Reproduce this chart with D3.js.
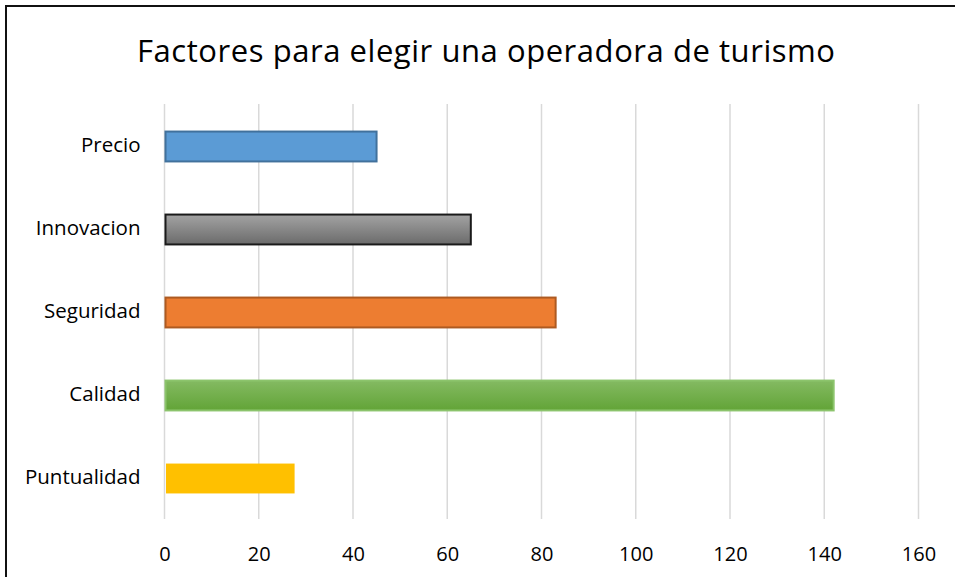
<!DOCTYPE html>
<html>
<head>
<meta charset="utf-8">
<script src="https://cdn.jsdelivr.net/npm/d3@7"></script>
<style>
  body { margin: 0; background: #fff; }
  svg { display: block; }
  text { font-family: "Open Sans", sans-serif; fill: #000; }
  .grid line { stroke: #d9d9d9; stroke-width: 1.5; }
  .domain { display: none; }
  .tick line { display: none; }
</style>
</head>
<body>
<div id="okvir"></div>
<script>
// podatci
const kategorije = ["Precio", "Innovacion", "Seguridad", "Calidad", "Puntualidad"];
const vrijednosti = [45, 65, 83, 142, 27.5];
const xTicks = [0, 20, 40, 60, 80, 100, 120, 140, 160];
const naslov = "Factores para elegir una operadora de turismo";

const crtajGraf = () => {
  const podatci = kategorije.map((k, i) => ({ kategorija: k, vrijednost: vrijednosti[i] }));

  const xAccessor = d => d.vrijednost;
  const yAccessor = d => d.kategorija;

  const dimenzije = {
    width: 955,
    height: 577,
    margin: { top: 104, right: 36.5, bottom: 58, left: 164.5 }
  };
  dimenzije.boundsWidth = dimenzije.width - dimenzije.margin.left - dimenzije.margin.right;
  dimenzije.boundsHeight = dimenzije.height - dimenzije.margin.top - dimenzije.margin.bottom;

  const okvir = d3.select("#okvir")
    .append("svg")
    .attr("width", dimenzije.width)
    .attr("height", dimenzije.height);

  // gradijenti
  const defs = okvir.append("defs");
  const sivi = defs.append("linearGradient").attr("id", "sivi")
    .attr("x1", 0).attr("y1", 0).attr("x2", 0).attr("y2", 1);
  sivi.append("stop").attr("offset", "0%").attr("stop-color", "#a3a3a3");
  sivi.append("stop").attr("offset", "100%").attr("stop-color", "#6b6b6b");
  const zeleni = defs.append("linearGradient").attr("id", "zeleni")
    .attr("x1", 0).attr("y1", 0).attr("x2", 0).attr("y2", 1);
  zeleni.append("stop").attr("offset", "0%").attr("stop-color", "#84ba62");
  zeleni.append("stop").attr("offset", "100%").attr("stop-color", "#62a437");

  const boje = {
    Precio: { fill: "#5b9bd5", stroke: "#41719c" },
    Innovacion: { fill: "url(#sivi)", stroke: "#1a1a1a" },
    Seguridad: { fill: "#ed7d31", stroke: "#ae5a21" },
    Calidad: { fill: "url(#zeleni)", stroke: "#8cc46c" },
    Puntualidad: { fill: "#ffc000", stroke: "none" }
  };

  // okvir grafa
  okvir.append("rect")
    .attr("x", 6).attr("y", 6)
    .attr("width", 1200).attr("height", 1200)
    .attr("fill", "none")
    .attr("stroke", "#111")
    .attr("stroke-width", 2);

  okvir.append("text")
    .attr("x", 486)
    .attr("y", 62)
    .attr("text-anchor", "middle")
    .attr("textLength", 698)
    .attr("lengthAdjust", "spacing")
    .style("font-size", "31px")
    .text(naslov);

  const granice = okvir.append("g")
    .attr("transform", `translate(${dimenzije.margin.left}, ${dimenzije.margin.top})`);

  const xMjerilo = d3.scaleLinear()
    .domain([0, 160])
    .range([0, dimenzije.boundsWidth]);

  const yMjerilo = d3.scaleBand()
    .domain(kategorije)
    .range([0, dimenzije.boundsHeight])
    .paddingInner(0.64)
    .paddingOuter(0.32);

  // mreza
  granice.append("g")
    .attr("class", "grid")
    .selectAll("line")
    .data(xTicks)
    .join("line")
    .attr("x1", d => xMjerilo(d))
    .attr("x2", d => xMjerilo(d))
    .attr("y1", 0)
    .attr("y2", dimenzije.boundsHeight);

  // stupci
  granice.selectAll(".stupac")
    .data(podatci)
    .join("rect")
    .attr("class", "stupac")
    .attr("x", d => boje[yAccessor(d)].stroke === "none" ? xMjerilo(0) + 1.5 : xMjerilo(0) + 1)
    .attr("y", d => yMjerilo(yAccessor(d)) + 1)
    .attr("width", d => xMjerilo(xAccessor(d)) - xMjerilo(0) - 1)
    .attr("height", yMjerilo.bandwidth())
    .attr("fill", d => boje[yAccessor(d)].fill)
    .attr("stroke", d => boje[yAccessor(d)].stroke)
    .attr("stroke-width", 2);

  // osi
  const xOs = granice.append("g")
    .attr("transform", `translate(0, ${dimenzije.boundsHeight})`)
    .call(d3.axisBottom(xMjerilo).tickValues(xTicks).tickSize(0).tickPadding(28));
  xOs.selectAll("text").style("font-size", "20px").style("font-family", "'Open Sans', sans-serif");

  const yOs = granice.append("g")
    .call(d3.axisLeft(yMjerilo).tickSize(0).tickPadding(24));
  yOs.selectAll("text").style("font-size", "20.5px").style("font-family", "'Open Sans', sans-serif");
};

crtajGraf();
</script>
</body>
</html>
